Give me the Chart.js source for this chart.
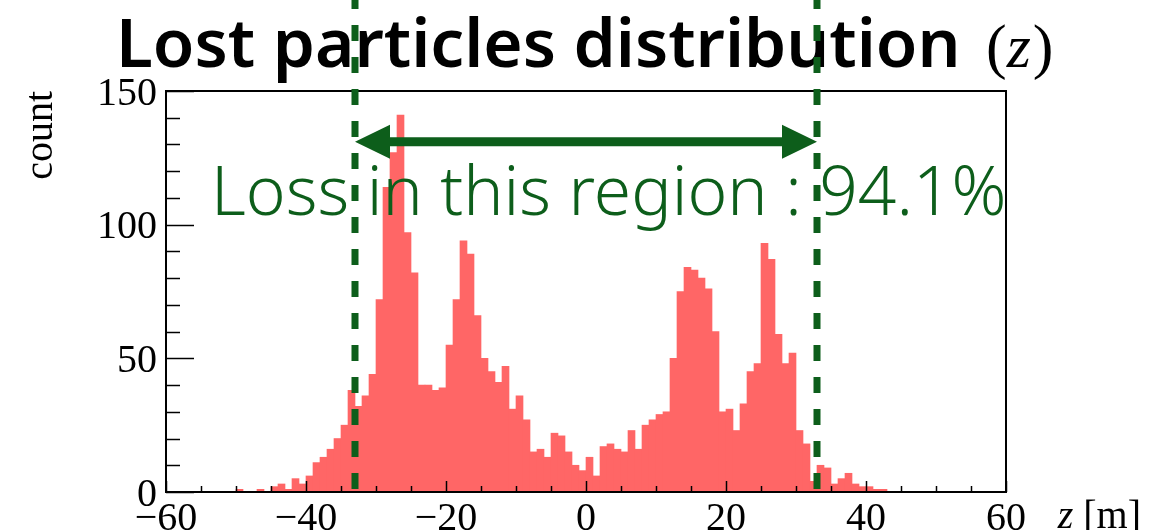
<!DOCTYPE html>
<html>
<head>
<meta charset="utf-8">
<script src="https://cdn.jsdelivr.net/npm/chart.js@4.4.0/dist/chart.umd.min.js"></script>
<style>
  html, body { margin: 0; padding: 0; background: #fff; }
</style>
</head>
<body>
<canvas id="lostz" width="1170" height="530"></canvas>
<script>
// lost particles per 1 m bin along z, first bin starts at -50 m
const zFirstBin = -50;
const zBinWidth = 1;
const lostCounts = [
  1, 0, 0, 1, 0, 2, 3, 1, 5, 3,             // -50 .. -41
  6, 11, 13, 16, 20, 25, 38, 32, 36, 44,    // -40 .. -31
  72, 114, 127, 141, 97, 82, 40, 40, 38, 39, // -30 .. -21
  55, 72, 94, 89, 66, 50, 45, 41, 47, 31,   // -20 .. -11
  36, 27, 15, 16, 13, 22, 21, 15, 10, 8,    // -10 .. -1
  13, 6, 17, 18, 16, 15, 23, 16, 25, 27,    //   0 .. 9
  29, 30, 50, 75, 84, 83, 80, 76, 60, 30,   //  10 .. 19
  31, 23, 33, 45, 48, 93, 87, 59, 48, 52,   //  20 .. 29
  23, 18, 4, 10, 9, 3, 5, 7, 3, 2,          //  30 .. 39
  2, 1, 1                                   //  40 .. 42
];

// axes
const zRange = [-60, 60];
const countRange = [0, 150];
const xTickValues = [-60, -40, -20, 0, 20, 40, 60];
const xTickLabels = ['\u221260', '\u221240', '\u221220', '0', '20', '40', '60'];
const xMinorStep = 5;
const yTickValues = [0, 50, 100, 150];
const yTickLabels = ['0', '50', '100', '150'];
const yMinorStep = 10;

// region boundaries and its loss fraction
const regionEdges = [-33, 33];
const regionArrowLevel = 131;
const regionLabel = 'Loss in this region : 94.1%';

const barColor = '#ff6666';
const green = '#0d5e1b';
const serif = '"Liberation Serif", "Times New Roman", serif';
const sans = '"Noto Sans", sans-serif';

function fitFont(ctx, text, weight, family, width) {
  ctx.font = weight + ' 100px ' + family;
  return 100 * width / ctx.measureText(text).width;
}

const decorations = {
  id: 'decorations',
  afterDatasetsDraw(chart) {
    const { ctx, chartArea: a, scales: { x, y } } = chart;
    ctx.save();

    // frame
    ctx.strokeStyle = '#000';
    ctx.lineWidth = 2;
    ctx.strokeRect(a.left, a.top, a.right - a.left, a.bottom - a.top);

    // y ticks, inside the frame
    ctx.lineWidth = 1.5;
    for (let v = countRange[0]; v <= countRange[1]; v += yMinorStep) {
      const py = Math.round(y.getPixelForValue(v)) + 0.5;
      const len = yTickValues.includes(v) ? 28 : 14;
      ctx.beginPath();
      ctx.moveTo(a.left, py);
      ctx.lineTo(a.left + len, py);
      ctx.stroke();
    }
    // x ticks
    for (let v = zRange[0]; v <= zRange[1]; v += xMinorStep) {
      const px = Math.round(x.getPixelForValue(v)) + 0.5;
      const len = xTickValues.includes(v) ? 11 : 6;
      ctx.beginPath();
      ctx.moveTo(px, a.bottom);
      ctx.lineTo(px, a.bottom - len);
      ctx.stroke();
    }

    // tick labels
    ctx.fillStyle = '#000';
    ctx.font = '40px ' + serif;
    ctx.textBaseline = 'alphabetic';
    ctx.textAlign = 'right';
    yTickValues.forEach((v, i) => {
      ctx.fillText(yTickLabels[i], a.left - 9, y.getPixelForValue(v) + 13.5);
    });
    ctx.textAlign = 'center';
    xTickValues.forEach((v, i) => {
      ctx.fillText(xTickLabels[i], x.getPixelForValue(v), 530);
    });

    // axis titles
    ctx.textAlign = 'left';
    const unit = ' [m]';
    const unitW = ctx.measureText(unit).width;
    ctx.fillText(unit, 1141 - unitW, 528);
    ctx.font = 'italic 40px ' + serif;
    const zW = ctx.measureText('z').width;
    ctx.fillText('z', 1141 - unitW - zW, 528);

    ctx.save();
    ctx.translate(52, a.top);
    ctx.rotate(-Math.PI / 2);
    ctx.textAlign = 'right';
    ctx.font = '40px ' + serif;
    ctx.fillText('count', 0, 0);
    ctx.restore();

    // title
    const titleText = 'Lost particles distribution';
    const titleSize = fitFont(ctx, titleText, '600', sans, 844);
    ctx.font = '600 ' + titleSize.toFixed(1) + 'px ' + sans;
    ctx.textAlign = 'left';
    ctx.fillText(titleText, 116, 67);
    let tx = 986;
    ctx.font = '62px ' + serif;
    ctx.fillText('(', tx, 67);
    tx += ctx.measureText('(').width;
    ctx.font = 'italic 62px ' + serif;
    ctx.fillText('z', tx, 67);
    tx += ctx.measureText('z').width + 2;
    ctx.font = '62px ' + serif;
    ctx.fillText(')', tx, 67);

    // region label
    const labelSize = fitFont(ctx, regionLabel, '300', sans, 795);
    ctx.font = '300 ' + labelSize.toFixed(1) + 'px ' + sans;
    ctx.fillStyle = green;
    ctx.fillText(regionLabel, 211, 215);

    // double arrow between the region edges
    const ay = y.getPixelForValue(regionArrowLevel);
    const x0 = x.getPixelForValue(regionEdges[0]);
    const x1 = x.getPixelForValue(regionEdges[1]);
    const head = 35, halfH = 17;
    ctx.strokeStyle = green;
    ctx.lineWidth = 9;
    ctx.beginPath();
    ctx.moveTo(x0 + head - 2, ay);
    ctx.lineTo(x1 - head + 2, ay);
    ctx.stroke();
    ctx.beginPath();
    ctx.moveTo(x0, ay);
    ctx.lineTo(x0 + head, ay - halfH);
    ctx.lineTo(x0 + head, ay + halfH);
    ctx.closePath();
    ctx.moveTo(x1, ay);
    ctx.lineTo(x1 - head, ay - halfH);
    ctx.lineTo(x1 - head, ay + halfH);
    ctx.closePath();
    ctx.fill();

    // dashed region edges
    ctx.lineWidth = 7;
    ctx.setLineDash([16, 16]);
    regionEdges.forEach(v => {
      const px = x.getPixelForValue(v);
      ctx.beginPath();
      ctx.moveTo(px, -7);
      ctx.lineTo(px, a.bottom - 3);
      ctx.stroke();
    });
    ctx.restore();
  }
};

new Chart(document.getElementById('lostz'), {
  type: 'bar',
  data: {
    datasets: [{
      data: lostCounts.map((c, i) => ({ x: zFirstBin + (i + 0.5) * zBinWidth, y: c })),
      backgroundColor: barColor,
      borderWidth: 0,
      barPercentage: 1,
      categoryPercentage: 1
    }]
  },
  options: {
    responsive: false,
    animation: false,
    devicePixelRatio: 1,
    layout: { padding: { top: 91, right: 164, left: 0, bottom: 0 } },
    plugins: { legend: { display: false }, tooltip: { enabled: false } },
    scales: {
      x: {
        type: 'linear',
        min: zRange[0],
        max: zRange[1],
        offset: false,
        ticks: { display: false, stepSize: xMinorStep },
        grid: { display: false },
        border: { display: false },
        afterFit(scale) { scale.height = 38; }
      },
      y: {
        min: countRange[0],
        max: countRange[1],
        ticks: { display: false, stepSize: yMinorStep },
        grid: { display: false },
        border: { display: false },
        afterFit(scale) { scale.width = 166; }
      }
    }
  },
  plugins: [decorations]
});
</script>
</body>
</html>
